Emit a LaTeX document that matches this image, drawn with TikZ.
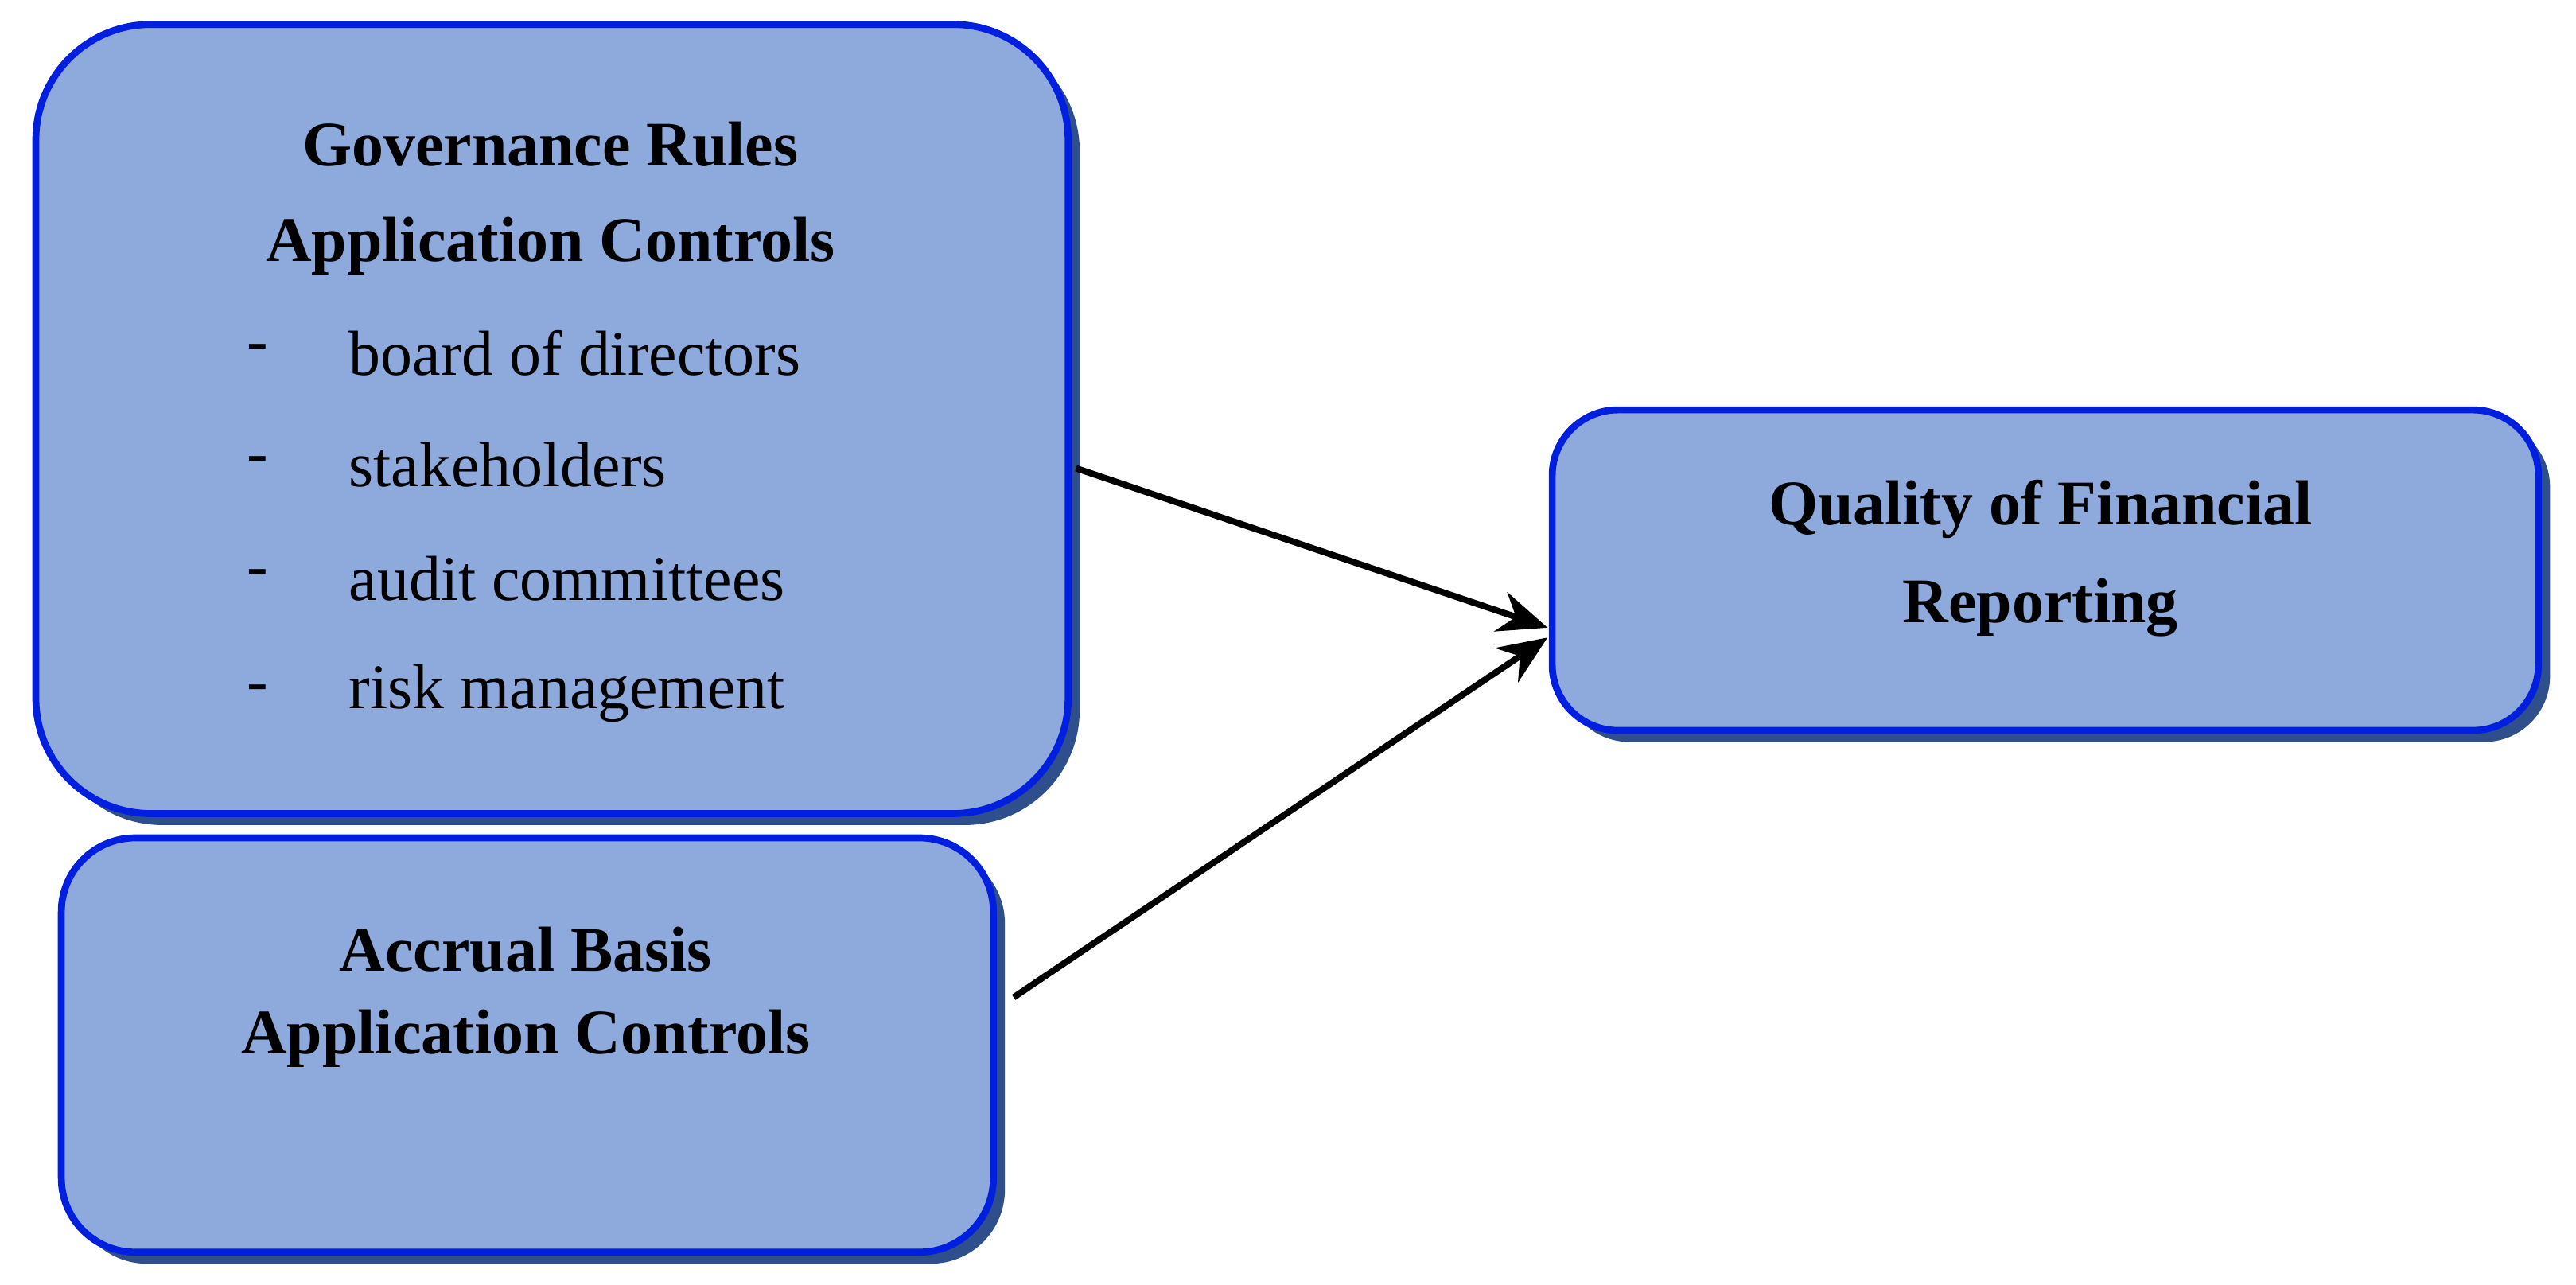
\documentclass[tikz,border=0pt]{standalone}
\usepackage{fontspec}
\setmainfont{Liberation Serif}
\usetikzlibrary{shadows,arrows.meta}
\begin{document}
\begin{tikzpicture}[x=0.01cm,y=-0.01cm,
  box/.style={draw=blue!55!black!70!cyan!40!blue, line width=1.2pt, top color=bl, middle color=bm, bottom color=bl,
    drop shadow={shadow xshift=0.07cm, shadow yshift=-0.07cm, fill=sh, opacity=1}},
  hd/.style={font=\fontsize{11}{13}\selectfont\bfseries},
  it/.style={font=\fontsize{11}{13}\selectfont, anchor=west},
  arr/.style={line width=1.1pt, -{Stealth[length=0.3cm,width=0.25cm]}}]
\definecolor{bl}{HTML}{8EA9DB}
\definecolor{bm}{HTML}{4472C4}
\definecolor{sh}{HTML}{2F4E8C}
\useasboundingbox (0,0) rectangle (1568,782);
\node[box, minimum width=6.28cm, minimum height=4.8cm, rounded corners=0.7cm] (g) at (336,255) {};
\node[box, minimum width=5.67cm, minimum height=2.52cm, rounded corners=0.45cm] (a) at (321,636) {};
\node[box, minimum width=6.0cm, minimum height=1.95cm, rounded corners=0.4cm] (q) at (1245,347) {};
\node[hd] (g1) at (335,88) {Governance Rules};
\node[hd] (g2) at (335,150) {Application Controls};
\foreach \y/\t [count=\i] in {215/board of directors,283/stakeholders,352/audit committees,422/risk management}{
  \node[it] (d\i) at (138,\y) {-};
  \node[it] (t\i) at (200,\y) {\t};
}
\node[hd] (a1) at (320,578) {Accrual Basis};
\node[hd] (a2) at (320,632) {Application Controls};
\node[hd] (q1) at (1242,310) {Quality of Financial};
\node[hd] (q2) at (1242,370) {Reporting};
\coordinate (s1) at (655,285);
\coordinate (s2) at (617,607);
\coordinate (e1) at (942,382);
\coordinate (e2) at (942,388);
\draw[arr] (s1) -- (e1);
\draw[arr] (s2) -- (e2);
\end{tikzpicture}
\end{document}
